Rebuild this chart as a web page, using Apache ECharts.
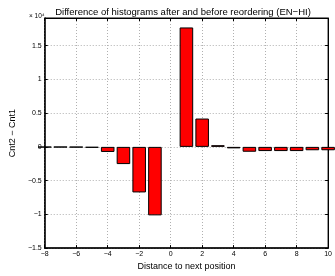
<!DOCTYPE html>
<html>
<head>
<meta charset="utf-8">
<script src="https://cdn.jsdelivr.net/npm/echarts@6/dist/echarts.min.js"></script>
<style>
  html, body { margin: 0; padding: 0; background: #fff; }
  #chart { width: 335px; height: 276px; }
</style>
</head>
<body>
<div id="chart"></div>
<script>
// distance to next position
var positions = [-8, -7, -6, -5, -4, -3, -2, -1, 1, 2, 3, 4, 5, 6, 7, 8, 9, 10];
// Cnt2 - Cnt1, in units of 10^4
var diffs = [-0.005, -0.004, -0.006, -0.012, -0.075, -0.255, -0.675, -1.015,
             1.77, 0.42, 0.025, -0.022, -0.072, -0.062, -0.062, -0.062, -0.05, -0.05];
var xTicks = [-8, -6, -4, -2, 0, 2, 4, 6, 8, 10];
var yTicks = [-1.5, -1, -0.5, 0, 0.5, 1, 1.5];

var gridLeft = 26, gridRight = 4, chartW = 335;
var unitPx = (chartW - gridLeft - gridRight) / (xTicks[xTicks.length - 1] - xTicks[0]);

function fmt(v) {
  return String(v).replace('-', '\u2212');
}

var myChart = echarts.init(document.getElementById('chart'));
var font = { fontFamily: 'Liberation Sans, Arial, sans-serif', color: '#000' };
var dotted = { show: true, lineStyle: { color: '#b0b0b0', type: [1, 2], width: 1 } };

myChart.setOption({
  animation: false,
  title: [
    {
      text: 'Difference of histograms after and before reordering (EN\u2212HI)',
      left: 178, top: 2, textAlign: 'center',
      textStyle: Object.assign({ fontSize: 9.5, fontWeight: 'normal' }, font)
    },
    {
      text: '\u00d7 10\u2074',
      left: 24, top: 8,
      textStyle: Object.assign({ fontSize: 6.5, fontWeight: 'normal' }, font)
    }
  ],
  grid: { left: gridLeft, right: gridRight, top: 18, bottom: 18, show: true, borderColor: '#000', borderWidth: 1 },
  xAxis: [
    {
      type: 'value', min: -8, max: 10, interval: 2,
      name: 'Distance to next position', nameLocation: 'middle', nameGap: 10,
      nameTextStyle: Object.assign({ fontSize: 9 }, font),
      axisLine: { show: true, onZero: false, lineStyle: { color: '#000', width: 1.5 } },
      axisTick: { inside: true, length: 3, lineStyle: { color: '#000' } },
      axisLabel: Object.assign({ fontSize: 7, margin: 2, formatter: fmt }, font),
      splitLine: dotted
    },
    {
      type: 'value', min: -8, max: 10, interval: 2, position: 'top',
      axisLine: { show: true, onZero: false, lineStyle: { color: '#000', width: 1 } },
      axisTick: { inside: true, length: 3, lineStyle: { color: '#000' } },
      axisLabel: { show: false }, splitLine: { show: false }
    }
  ],
  yAxis: [
    {
      type: 'value', min: -1.5, max: 1.91, interval: 0.5,
      name: 'Cnt2 \u2212 Cnt1', nameLocation: 'middle', nameGap: 19, nameRotate: 90,
      nameTextStyle: Object.assign({ fontSize: 9 }, font),
      axisLine: { show: true, onZero: false, lineStyle: { color: '#000', width: 1.5 } },
      axisTick: { inside: true, length: 3, lineStyle: { color: '#000' } },
      axisLabel: Object.assign({
        fontSize: 7, margin: 3,
        formatter: function (v) { return yTicks.indexOf(v) >= 0 ? fmt(v) : ''; }
      }, font),
      splitLine: dotted
    },
    {
      type: 'value', min: -1.5, max: 1.91, interval: 0.5, position: 'right',
      axisLine: { show: true, onZero: false, lineStyle: { color: '#000', width: 1 } },
      axisTick: { inside: true, length: 3, lineStyle: { color: '#000' } },
      axisLabel: { show: false }, splitLine: { show: false }
    }
  ],
  series: [{
    type: 'bar',
    clip: true,
    barWidth: unitPx * 0.8,
    data: positions.map(function (p, i) { return [p, diffs[i]]; }),
    itemStyle: { color: '#ff0000', borderColor: '#000', borderWidth: 1 }
  }]
});
</script>
</body>
</html>
